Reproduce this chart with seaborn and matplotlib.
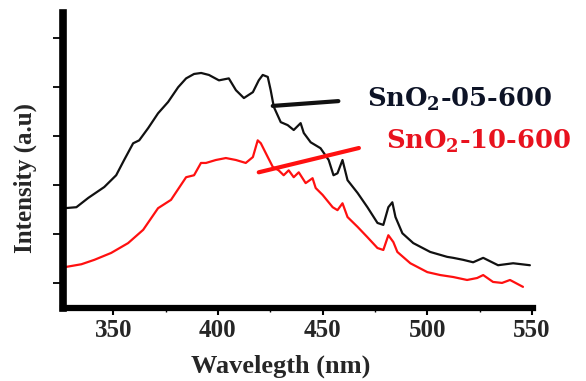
import numpy as np
import pandas as pd
import matplotlib
matplotlib.use("Agg")
import matplotlib.pyplot as plt
import seaborn as sns

# --- data ---
wl_black = [326.7, 332.4, 338.1, 345.7, 351.4, 355.2, 359.5, 362.4, 366.7, 371.4, 376.2, 381.0,
            384.8, 388.6, 392.0, 395.7, 400.5, 405.2, 408.6, 412.4, 416.7, 419.5, 421.4, 423.8,
            425.2, 426.7, 430.0, 433.3, 436.2, 439.5, 441.0, 444.3, 449.0, 452.9, 455.2, 457.1,
            459.5, 461.9, 466.7, 471.4, 476.2, 479.0, 481.4, 483.3, 484.8, 488.1, 493.3, 501.4,
            509.5, 512.4, 517.1, 521.9, 526.7, 533.8, 541.0, 549.0]
int_black = [2.03, 2.05, 2.24, 2.46, 2.70, 3.01, 3.35, 3.41, 3.66, 3.96, 4.19, 4.49,
             4.67, 4.76, 4.78, 4.74, 4.63, 4.67, 4.43, 4.27, 4.39, 4.63, 4.74, 4.70,
             4.43, 4.09, 3.78, 3.72, 3.62, 3.76, 3.56, 3.37, 3.25, 3.01, 2.70, 2.74,
             3.01, 2.60, 2.34, 2.05, 1.73, 1.69, 2.05, 2.15, 1.85, 1.52, 1.32, 1.14,
             1.04, 1.02, 0.98, 0.93, 1.02, 0.87, 0.91, 0.87]

wl_red = [326.7, 334.8, 341.0, 349.0, 357.1, 364.3, 371.4, 377.6, 384.8, 388.6, 391.9, 394.3,
          399.0, 403.8, 408.6, 413.3, 416.7, 419.0, 420.5, 423.8, 426.2, 429.0, 431.4, 433.8,
          436.2, 438.6, 441.9, 445.2, 446.7, 450.0, 454.8, 457.1, 459.5, 461.9, 466.7, 471.4,
          476.2, 479.0, 481.4, 483.8, 485.7, 491.9, 500.0, 506.2, 512.4, 519.0, 523.8, 526.7,
          531.4, 535.7, 539.5, 545.7]
int_red = [0.83, 0.89, 0.98, 1.12, 1.32, 1.59, 2.03, 2.20, 2.66, 2.70, 2.95, 2.95,
           3.01, 3.05, 3.01, 2.95, 3.07, 3.41, 3.35, 3.07, 2.87, 2.80, 2.70, 2.80,
           2.66, 2.76, 2.54, 2.64, 2.44, 2.30, 2.05, 1.99, 2.13, 1.85, 1.65, 1.44,
           1.22, 1.18, 1.48, 1.34, 1.14, 0.91, 0.73, 0.67, 0.63, 0.57, 0.61, 0.67,
           0.53, 0.51, 0.57, 0.43]

series_names = ["SnO$_2$-05-600", "SnO$_2$-10-600"]
series_colors = ["#111111", "#ff1010"]
label_colors = ["#0d1326", "#e8121e"]
x_ticks = [350, 400, 450, 500, 550]
x_minor = [375, 425, 475, 525]
y_ticks = [0.5, 1.5, 2.5, 3.5, 4.5, 5.5]
# annotation anchors (wavelength, intensity) where the pointer lines touch the curves
anchor_pts = [(426.2, 4.11), (419.5, 2.76)]
label_pts = [(471.0, 4.25), (480.5, 3.39)]

df = pd.concat([
    pd.DataFrame({"wl": wl_black, "I": int_black, "s": series_names[0]}),
    pd.DataFrame({"wl": wl_red, "I": int_red, "s": series_names[1]}),
])

sns.set_style("white")
plt.rcParams["font.family"] = ["Liberation Serif", "DejaVu Serif"]
plt.rcParams["font.weight"] = "bold"
plt.rcParams["mathtext.fontset"] = "custom"
plt.rcParams["mathtext.rm"] = "DejaVu Serif:bold"
plt.rcParams["mathtext.it"] = "DejaVu Serif:bold"
plt.rcParams["mathtext.bf"] = "DejaVu Serif:bold"

fig = plt.figure(figsize=(5.86, 3.81), dpi=100)
ax = fig.add_axes([0.1075, 0.1916, 0.8021, 0.7743])

sns.lineplot(data=df, x="wl", y="I", hue="s", palette=series_colors, sort=False,
             linewidth=1.6, legend=False, ax=ax)

ax.set_xlim(326, 550.5)
ax.set_ylim(0, 6)
ax.set_xticks(x_ticks)
ax.set_xticks(x_minor, minor=True)
ax.set_yticks(y_ticks)
ax.set_yticklabels([])
ax.set_xticklabels([str(t) for t in x_ticks], fontsize=18, fontweight="bold")

for side in ["top", "right"]:
    ax.spines[side].set_visible(False)
ax.spines["left"].set_linewidth(5.5)
ax.spines["bottom"].set_linewidth(4.5)
ax.spines["left"].set_color("black")
ax.spines["bottom"].set_color("black")
ax.tick_params(axis="y", direction="out", length=7, width=1.3, left=True, color="black")
ax.tick_params(axis="x", which="major", direction="out", length=5, width=1.5, bottom=True,
               color="black", pad=3)
ax.tick_params(axis="x", which="minor", direction="out", length=3, width=1.0, bottom=True,
               color="black")

ax.set_xlabel("Wavelegth (nm)", fontsize=19, fontweight="bold")
ax.xaxis.set_label_coords(0.464, -0.197)
ax.xaxis.label.set_va("center")
ax.set_ylabel("Intensity (a.u)", fontsize=18, fontweight="bold")
ax.yaxis.set_label_coords(-0.081, 0.44)
ax.yaxis.label.set_va("center")

for name, lc, col, a, t in zip(series_names, label_colors, series_colors, anchor_pts, label_pts):
    ax.annotate(name, xy=a, xytext=t, textcoords="data", fontsize=18.5, fontweight="bold",
                family=["DejaVu Serif"],
                color=lc, va="center", ha="left", annotation_clip=False,
                arrowprops=dict(arrowstyle="-", color=col, lw=3.0, shrinkA=18, shrinkB=0,
                                relpos=(0, 0.5)))

fig.savefig("out.png", dpi=100)
